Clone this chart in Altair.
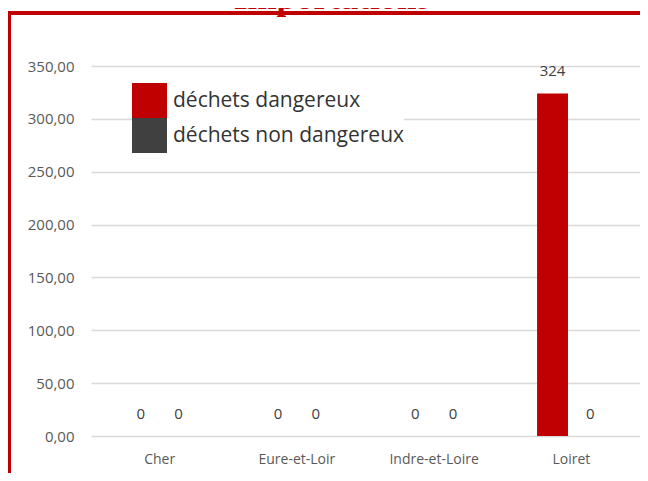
import altair as alt
import pandas as pd

categories = ["Cher", "Eure-et-Loir", "Indre-et-Loire", "Loiret"]
series = ["déchets dangereux", "déchets non dangereux"]
dangereux = [0, 0, 0, 324]
non_dangereux = [0, 0, 0, 0]
colors = ["#c00000", "#404040"]
title_text = "Importations"

rows = []
for c, v in zip(categories, dangereux):
    rows.append({"cat": c, "serie": series[0], "val": v})
for c, v in zip(categories, non_dangereux):
    rows.append({"cat": c, "serie": series[1], "val": v})
df = pd.DataFrame(rows)

FONT = "Open Sans"

x_enc = alt.X("cat:N", sort=categories,
              scale=alt.Scale(paddingInner=0.5, paddingOuter=0.25),
              axis=alt.Axis(title=None, labelAngle=0, domain=False, ticks=False,
                            labelPadding=16, labelFontSize=14, labelFont=FONT,
                            labelColor="#595959", grid=False))
xo_enc = alt.XOffset("serie:N", sort=series,
                     scale=alt.Scale(paddingInner=0.18, paddingOuter=0))
y_enc = alt.Y("val:Q", scale=alt.Scale(domain=[0, 350]),
              axis=alt.Axis(title=None, values=[0, 50, 100, 150, 200, 250, 300, 350],
                            labelExpr="replace(format(datum.value, '.2f'), '.', ',')",
                            domain=False, ticks=False, labelPadding=17,
                            labelFontSize=15, labelFont=FONT, labelColor="#595959",
                            gridColor="#d9d9d9", gridWidth=1.3))

bars = alt.Chart(df).mark_bar().encode(
    x=x_enc, xOffset=xo_enc, y=y_enc,
    color=alt.Color("serie:N", sort=series,
                    scale=alt.Scale(domain=series, range=colors),
                    legend=alt.Legend(title=None, orient="none", legendX=41, legendY=17,
                                      symbolType="square", symbolSize=1225,
                                      symbolStrokeWidth=0, labelFontSize=21,
                                      labelFont=FONT, labelColor="#333333",
                                      labelOffset=6, rowPadding=0, padding=0,
                                      labelLimit=0, fillColor="white")),
)

labels = alt.Chart(df).mark_text(baseline="middle", dy=-22, fontSize=15, font=FONT,
                                 color="#404040").encode(
    x=alt.X("cat:N", sort=categories), xOffset=alt.XOffset("serie:N", sort=series),
    y="val:Q", text=alt.Text("val:Q", format="d"))

one = pd.DataFrame({"t": [title_text]})
title = alt.Chart(one).mark_text(font="Liberation Serif", fontWeight="bold", fontSize=35,
                                 color="#c00000", baseline="alphabetic", align="center").encode(
    text="t:N", x=alt.value(241), y=alt.value(-57))
top_line = alt.Chart(one).mark_rule(color="#c00000", strokeWidth=4).encode(
    x=alt.value(-83), x2=alt.value(560), y=alt.value(-53))
left_line = alt.Chart(one).mark_rule(color="#c00000", strokeWidth=3).encode(
    x=alt.value(-81.5), y=alt.value(-55), y2=alt.value(420))

chart = alt.layer(bars, labels, title, top_line, left_line).properties(
    width=549, height=370,
    autosize=alt.AutoSizeParams(type="none"),
    padding={"left": 83, "top": 58, "right": 0, "bottom": 37},
    background="white",
).configure_view(stroke=None)

chart.save("out.html", embed_options={"renderer": "svg", "actions": False})
